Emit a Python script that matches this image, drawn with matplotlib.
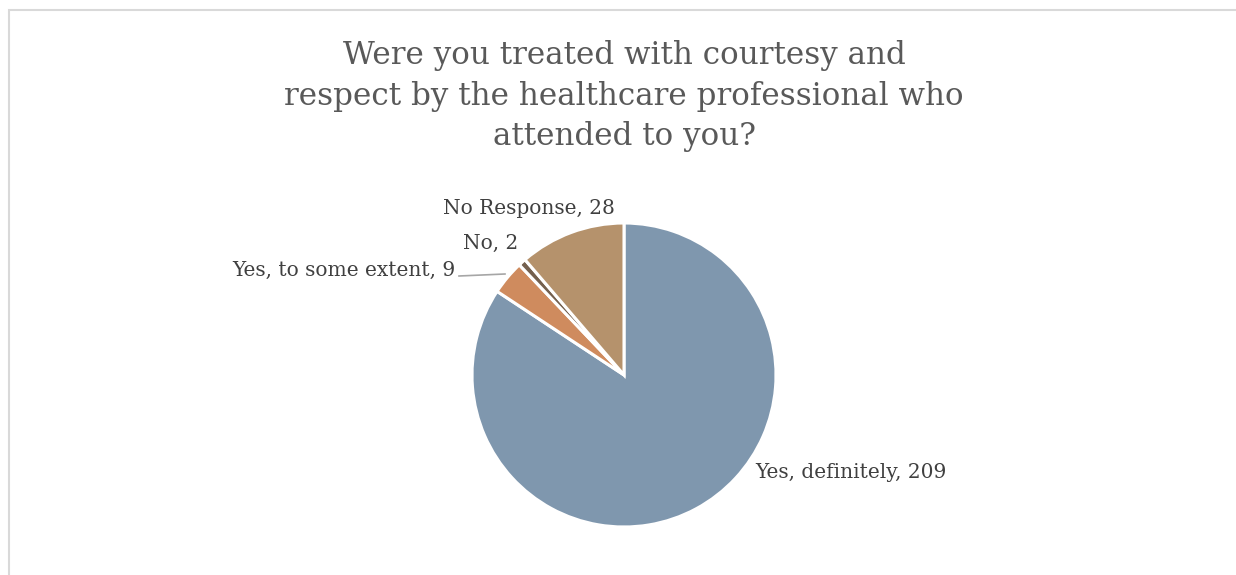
import matplotlib
matplotlib.use("Agg")
import matplotlib.pyplot as plt
from matplotlib.patches import Rectangle

categories = ["Yes, definitely", "Yes, to some extent", "No", "No Response"]
values = [209, 9, 2, 28]
colors = ["#7f97ae", "#cf8b5e", "#74604e", "#b5926c"]
title = "Were you treated with courtesy and\nrespect by the healthcare professional who\nattended to you?"

W, H = 1236, 575
fig = plt.figure(figsize=(W / 100, H / 100), dpi=100)
ax = fig.add_axes([0, 0, 1, 1])
ax.set_xlim(0, W)
ax.set_ylim(0, H)
ax.set_aspect("equal")
ax.axis("off")

# chart frame (extends beyond right/bottom of the image)
ax.add_patch(Rectangle((8.5, -20), W + 20, H - 9.5 + 20, fill=False,
                       edgecolor="#d9d9d9", linewidth=1.5))

cx, cy, r = 624, H - 375, 152
wedges, _ = ax.pie(values, colors=colors, startangle=90, counterclock=False,
                   center=(cx, cy), radius=r, frame=True,
                   wedgeprops=dict(edgecolor="white", linewidth=2.2))
ax.set_xlim(0, W)
ax.set_ylim(0, H)
ax.axis("off")

serif = ["DejaVu Serif"]
fig.text(0.505, 1 - 96 / H, title, ha="center", va="center", fontsize=22.3,
         color="#595959", family=serif, linespacing=1.38)

lab_color = "#404040"
fs = 14.5
labels = [f"{c}, {v}" for c, v in zip(categories, values)]
ax.text(755, H - 472, labels[0], ha="left", va="center", fontsize=fs, color=lab_color, family=serif)
ax.text(455, H - 270, labels[1], ha="right", va="center", fontsize=fs, color=lab_color, family=serif)
ax.text(491, H - 243, labels[2], ha="center", va="center", fontsize=fs, color=lab_color, family=serif)
ax.text(529, H - 208, labels[3], ha="center", va="center", fontsize=fs, color=lab_color, family=serif)
ax.plot([459, 505], [H - 276, H - 274], color="#a6a6a6", linewidth=1.2)

fig.savefig("out.png", dpi=100, facecolor="white")
